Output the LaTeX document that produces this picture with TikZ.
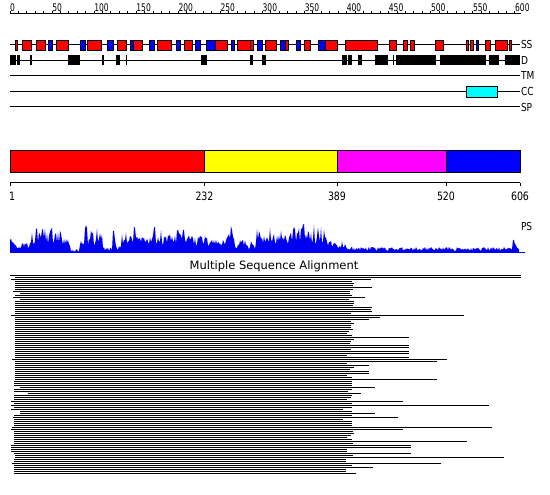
\documentclass[tikz,border=0pt]{standalone}
\usepackage{fontspec}
\setmainfont{DejaVu Sans}
\newfontfamily\condfont[FakeStretch=0.82]{DejaVu Sans}
\newfontfamily\rulefont[FakeStretch=0.72]{DejaVu Sans}
\definecolor{ssred}{RGB}{255,0,0}
\definecolor{ssblue}{RGB}{0,0,255}
\definecolor{ccyan}{RGB}{0,255,255}
\definecolor{dyellow}{RGB}{255,255,0}
\definecolor{dmagenta}{RGB}{255,0,255}
\definecolor{psblue}{RGB}{0,0,240}
\begin{document}
\begin{tikzpicture}[x=1pt,y=-1pt,line width=1pt,
  rowlab/.style={anchor=west,inner sep=0pt,font=\condfont\fontsize{11}{11}\selectfont},
  rulelab/.style={anchor=base west,inner sep=0pt,font=\rulefont\fontsize{10.5}{10.5}\selectfont},
  axlab/.style={anchor=base,inner sep=0pt,font=\condfont\fontsize{11.5}{11.5}\selectfont},
  ssbox/.style={draw=black,line width=0.8pt},
  msaline/.style={line width=1pt,black}]
\useasboundingbox (0,0) rectangle (550,495);
\fill[white] (0,0) rectangle (550,495);
\pgfmathsetseed{7}
% ruler
\draw (10,14) -- (521,14);
\foreach \r in {0,10,...,600} \draw ({10+\r*0.8416},11) -- ({10+\r*0.8416},14);
\foreach \r in {0,50,...,600} \node[rulelab] (rl\r) at ({10+\r*0.8416-0.3},11.6) {\r};
% SS row
\draw (10,44.5) -- (520,44.5);
\foreach \a/\b/\c in {15/17.3/ssred,22.3/31.7/ssred,36.3/45.7/ssred,48.3/52.3/ssblue,56.7/68.3/ssred,
  80.7/85.7/ssblue,87.3/101.7/ssred,107.3/113.3/ssblue,117.3/126.7/ssred,130.7/133.7/ssblue,
  133.7/142.3/ssred,149.3/154.7/ssblue,157.3/171.7/ssred,176.3/180.3/ssblue,184.3/192.7/ssred,
  195.3/200.3/ssblue,206.7/215/ssblue,215/227.7/ssred,231.3/234.7/ssblue,237.3/250/ssred,
  250/253.3/ssred,257.3/262.3/ssblue,265.7/276.7/ssred,280/285/ssblue,285/288.3/ssred,
  296/300/ssblue,304.3/310/ssred,318.3/325/ssblue,325/337.7/ssred,345.7/377.3/ssred,
  389.3/396.7/ssred,403.3/407.7/ssred,410/414/ssred,435.7/443.3/ssred,466/468.7/ssred,
  470.7/473.7/ssred,476.3/478.7/ssblue,485.3/490.7/ssred,495.3/507.3/ssred,509/511.3/ssred}
  \filldraw[ssbox,fill=\c] (\a,40) rectangle (\b,50);
\node[rowlab] (lss) at (520.5,44.5) {SS};
% D row
\draw (10,60.2) -- (520,60.2);
\foreach \a/\b in {10/16,17.3/20,30/31.7,68.3/80,102/104,116/120,126/127,201/207.3,250/253.3,
  262.3/265.7,341.7/347.3,348.3/351.7,358.3/361.7,375.3/388.3,392.7/394,396/435.7,440/485.7,
  488.7/499.3,505.3/520}
  \fill[black] (\a,55.3) rectangle (\b,65.5);
\node[rowlab] (ld) at (520.5,60.2) {D};
% TM, CC, SP
\draw (10,75.8) -- (520,75.8);
\node[rowlab] (ltm) at (520.5,75.8) {TM};
\draw (10,91.4) -- (520,91.4);
\filldraw[ssbox,fill=ccyan] (466,86) rectangle (497,97);
\node[rowlab] (lcc) at (520.5,91.4) {CC};
\draw (10,107) -- (520,107);
\node[rowlab] (lsp) at (520.5,107) {SP};
% domain bar
\fill[ssred] (10,150.5) rectangle (204.5,172);
\fill[dyellow] (204.5,150.5) rectangle (337,172);
\fill[dmagenta] (337,150.5) rectangle (446,172);
\fill[ssblue] (446,150.5) rectangle (520,172);
\draw[line width=0.8pt] (10,150.5) rectangle (520,172);
\foreach \x in {204.5,337,446} \draw[line width=0.8pt] (\x,150.5) -- (\x,172);
% axis
\draw (10,182.8) -- (520,182.8);
\foreach \x in {10,204.5,337,446,520} \draw (\x,182.8) -- (\x,186.5);
\node[axlab] (a1) at (12,200.5) {1};
\node[axlab] (a232) at (204.5,200.5) {232};
\node[axlab] (a389) at (337,200.5) {389};
\node[axlab] (a520) at (446,200.5) {520};
\node[axlab] (a606) at (520,200.5) {606};
% PS profile
\fill[psblue] (10,252.8)
  \foreach \a/\b/\lo/\hi in {10/11/12/17,12/31/4/11,32/65/8/25,66/70/6/14,71/79/1/4,80/84/6/13,
    85/87/18/31,88/102/7/25,103/112/1/6,113/115/12/22,116/121/2/7,122/133/9/21,134/135/22/31,
    136/151/8/17,152/161/9/27,162/172/7/19,173/186/9/24,187/228/7/18,229/233/13/27,234/256/3/14,
    257/262/13/27,263/301/9/27,302/309/12/32,310/326/9/28,327/347/4/12,348/512/2/6,513/517/5/14,
    518/519/2/6}
  { \foreach \x in {\a,...,\b} { -- (\x,{252.8-(\lo+(\hi-\lo)*pow(rnd,1.1))}) } }
  -- (519,252.8) -- cycle;
\draw[psblue] (10,252.8) -- (524.7,252.8);
\node[rowlab] (lps) at (520.5,226) {PS};
% MSA
\node[inner sep=0pt,font=\fontsize{11.5}{11.5}\selectfont] (title) at (274,266.5) {Multiple Sequence Alignment};
\foreach \s/\e [count=\i from 0] in {10/520.7,15/520.7,11/371.3,15/351.7,15/354.3,15/353.3,15/372.3,
  15/353.3,12.5/350,20/350,15/351.7,13/365,20/349.3,15/354.3,15/354.3,15/353.3,15/372.3,15/371.3,
  15/372.3,15/350.7,10.5/464.3,15/380,15/369.3,15/350.7,15/354.3,15/350.7,15/350.7,15/353.3,
  15/349.3,15/346.7,15/351.7,15/409.3,15/354.3,15/350.7,15/350,15/409.3,15/409.3,15/350.7,
  15/409.3,15/409.3,15/346.7,15/409.3,11.7/447.3,15/437.3,15/346.7,15/369.3,15/354.3,15/350,
  15/369.3,15/369.3,15/346.7,15/351.7,15/437.3,14/351.7,14/351.7,14/351.7,20/375.3,14/351.7,
  14/348.3,28/360.7,14/351.7,14/350.7,14/346.7,10.5/402.7,14/351.7,10.5/489.3,14/351.7,11/342.7,
  20/351.7,20/375.3,14/351.7,13/397.7,14/342.7,14/351.7,14/351.7,14/351.7,12/491.7,10.5/403.3,
  14/352.7,14/354,14/350.7,14/346.7,14/351.7,14/466.7,14/352.7,10.5/410.7,10.5/410.7,11/347.3,
  10.5/347.3,14/410.7,15/352.7,15/504.3,14/345.7,14/345.7,12/440.7,14/351.7,14/373.3,14/345.7,
  14/345.7,13.5/355.7}
  \draw[msaline] (\s,{275.3+2*\i}) -- (\e,{275.3+2*\i});
\end{tikzpicture}
\end{document}
